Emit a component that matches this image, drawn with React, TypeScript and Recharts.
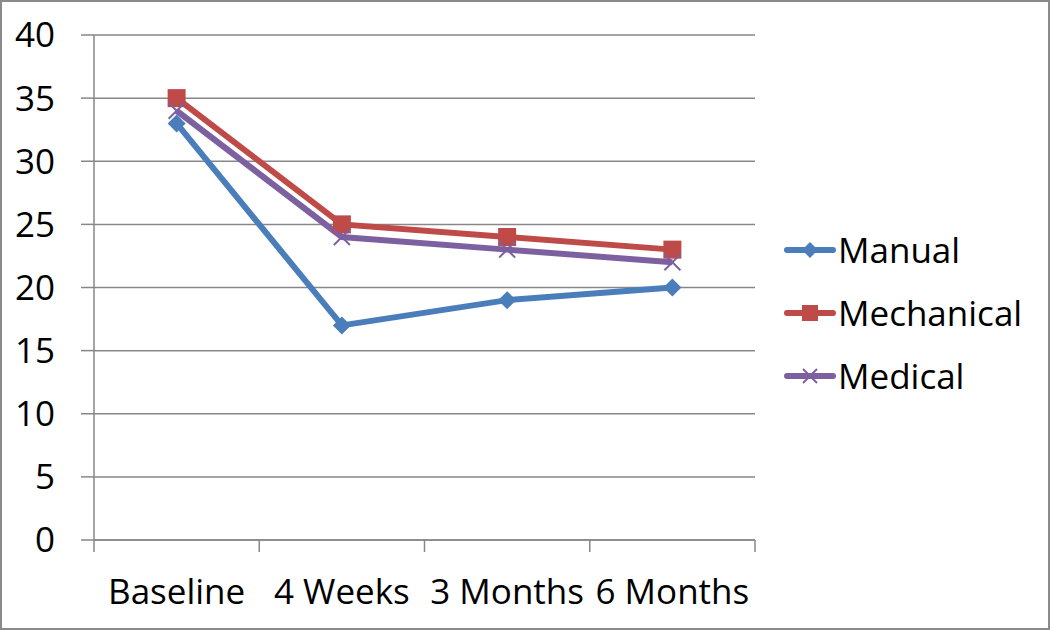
import React from "react";
import {
  LineChart,
  Line,
  XAxis,
  YAxis,
  CartesianGrid,
  Legend,
} from "recharts";

const CATEGORIES = ["Baseline", "4 Weeks", "3 Months", "6 Months"];
const MANUAL = [33, 17, 19, 20];
const MECHANICAL = [35, 25, 24, 23];
const MEDICAL = [34, 24, 23, 22];
const Y_TICKS = [0, 5, 10, 15, 20, 25, 30, 35, 40];

const GRID = "#878787";
const FONT = "'Open Sans', sans-serif";
const FONT_SIZE = 35;

const SERIES = [
  { key: "manual", name: "Manual", color: "#4A7EBB", marker: "diamond" },
  { key: "mechanical", name: "Mechanical", color: "#BE4B48", marker: "square" },
  { key: "medical", name: "Medical", color: "#7D60A0", marker: "x" },
];

// x sits in the middle of each category band so boundary ticks land on integers
const data = CATEGORIES.map((name, i) => ({
  name,
  x: i + 0.5,
  manual: MANUAL[i],
  mechanical: MECHANICAL[i],
  medical: MEDICAL[i],
}));

const X_TICKS = [0, 0.5, 1, 1.5, 2, 2.5, 3, 3.5, 4];

function Marker({ type, cx, cy, color, size = 9 }) {
  if (type === "diamond") {
    return (
      <polygon
        points={`${cx},${cy - size} ${cx + size},${cy} ${cx},${cy + size} ${cx - size},${cy}`}
        fill={color}
      />
    );
  }
  if (type === "square") {
    return (
      <rect x={cx - size} y={cy - size} width={size * 2} height={size * 2} fill={color} />
    );
  }
  const s = size - 1;
  return (
    <g stroke={color} strokeWidth={2}>
      <line x1={cx - s} y1={cy - s} x2={cx + s} y2={cy + s} />
      <line x1={cx - s} y1={cy + s} x2={cx + s} y2={cy - s} />
    </g>
  );
}

function XTick({ x, y, payload }) {
  const v = payload.value;
  if (Number.isInteger(v)) {
    return <line x1={x} x2={x} y1={y} y2={y + 12} stroke={GRID} strokeWidth={1.5} />;
  }
  return (
    <text
      x={x}
      y={y + 64}
      textAnchor="middle"
      fill="#000"
      fontSize={FONT_SIZE}
      fontFamily={FONT}
    >
      {CATEGORIES[v - 0.5]}
    </text>
  );
}

function LegendContent() {
  return (
    <div style={{ fontFamily: FONT, fontSize: FONT_SIZE, color: "#000" }}>
      {SERIES.map((s) => (
        <div
          key={s.key}
          style={{ display: "flex", alignItems: "center", height: 63 }}
        >
          <svg width={52} height={24} style={{ marginRight: 2 }}>
            <line x1={3} x2={49} y1={12} y2={12} stroke={s.color} strokeWidth={6} strokeLinecap="round" />
            <Marker type={s.marker} cx={26} cy={12} color={s.color} size={8} />
          </svg>
          <span>{s.name}</span>
        </div>
      ))}
    </div>
  );
}

export default function App() {
  return (
    <div
      style={{
        position: "absolute",
        left: 0,
        top: 0,
        width: 1050,
        height: 630,
        boxSizing: "border-box",
        border: "2px solid #8a8a8a",
        background: "#fff",
      }}
    >
      <div style={{ position: "absolute", left: -2, top: -2 }}>
        <LineChart
          width={1050}
          height={630}
          data={data}
          margin={{ top: 35, right: 295, bottom: 0, left: 0 }}
        >
          <CartesianGrid vertical={false} stroke={GRID} strokeWidth={1.5} />
          <XAxis
            dataKey="x"
            type="number"
            domain={[0, 4]}
            ticks={X_TICKS}
            interval={0}
            height={90}
            tickSize={0}
            tickMargin={0}
            tickLine={false}
            axisLine={{ stroke: GRID, strokeWidth: 1.5 }}
            tick={<XTick />}
          />
          <YAxis
            type="number"
            domain={[0, 40]}
            ticks={Y_TICKS}
            interval={0}
            width={94}
            tickSize={13}
            tickMargin={26}
            axisLine={{ stroke: GRID, strokeWidth: 1.5 }}
            tickLine={{ stroke: GRID, strokeWidth: 1.5 }}
            tick={{ fill: "#000", fontSize: FONT_SIZE, fontFamily: FONT }}
          />
          <Legend
            layout="vertical"
            align="center"
            verticalAlign="middle"
            content={<LegendContent />}
            wrapperStyle={{ left: 784, top: 218, width: 264 }}
          />
          {SERIES.map((s) => (
            <Line
              key={s.key}
              dataKey={s.key}
              name={s.name}
              stroke={s.color}
              strokeWidth={6}
              isAnimationActive={false}
              dot={(p) => (
                <Marker key={`${s.key}-${p.index}`} type={s.marker} cx={p.cx} cy={p.cy} color={s.color} />
              )}
              activeDot={false}
            />
          ))}
        </LineChart>
      </div>
    </div>
  );
}
